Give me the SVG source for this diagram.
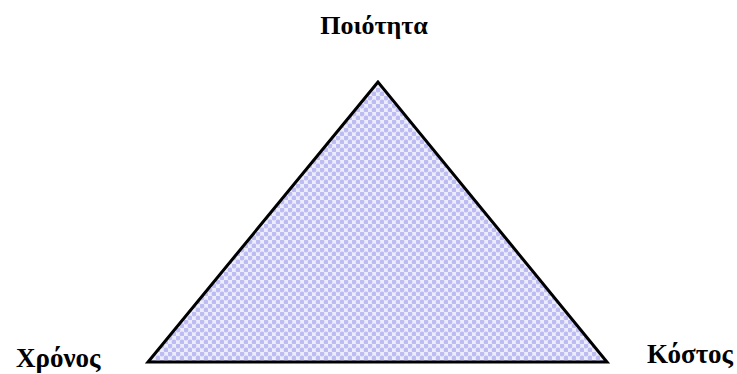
<svg xmlns="http://www.w3.org/2000/svg" width="737" height="374" viewBox="0 0 737 374">
<style>
.lbl{font-family:"Liberation Serif","Times New Roman",serif;font-weight:bold;fill:#000}
</style>
<defs>
<pattern id="dots" width="8" height="8" patternUnits="userSpaceOnUse">
<rect width="8" height="8" fill="#ececfc"/>
<circle cx="2" cy="2" r="2.4" fill="#bcbcf2"/>
<circle cx="6" cy="6" r="2.4" fill="#bcbcf2"/>
</pattern>
</defs>
<rect width="737" height="374" fill="#fff"/>
<g id="triangle">
<polygon points="378,82 148,362 607,362" fill="url(#dots)" stroke="#000" stroke-width="3" stroke-linejoin="miter"/>
</g>
<g id="quality"><text class="lbl" x="374" y="34" text-anchor="middle" font-size="26">Ποιότητα</text></g>
<g id="time"><text class="lbl" x="16" y="367" font-size="27">Χρόνος</text></g>
<g id="cost"><text class="lbl" x="647" y="363" font-size="27">Κόστος</text></g>
</svg>
